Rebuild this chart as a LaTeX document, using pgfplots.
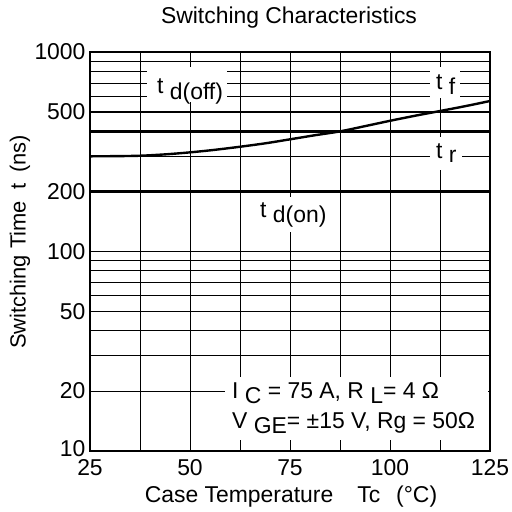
\documentclass[border=0pt]{standalone}
\usepackage{fontspec}
\setmainfont{Liberation Sans}
\usepackage{pgfplots}
\pgfplotsset{compat=1.18}
\begin{document}
\begin{tikzpicture}[font=\fontsize{23}{27}\selectfont]
\useasboundingbox (-90bp,-61bp) rectangle (422bp,451bp);
\begin{axis}[
  at={(0,0)}, anchor=south west,
  scale only axis, width=400bp, height=399bp,
  ymode=log, xmin=25, xmax=125, ymin=10, ymax=1000,
  xtick={25,50,75,100,125},
  minor xtick={37.5,62.5,87.5,112.5},
  ytick={10,20,50,100,200,500,1000},
  yticklabels={\raisebox{5bp}{10},20,50,100,200,500,1000},
  minor ytick={30,40,60,70,80,90,300,400,600,700,800,900},
  grid=both,
  major grid style={black, line width=0.8bp},
  minor grid style={black, line width=0.8bp},
  major tick length=0pt, minor tick length=0pt,
  axis line style={black, line width=1.2bp},
  /pgf/number format/assume math mode=true,
  tick label style={font=\fontsize{23}{27}\selectfont},
  xticklabel style={yshift=-5bp},
  yticklabel style={xshift=-1bp},
  clip=false,
]
\addplot[black, line width=2.4bp] coordinates {(25,500) (125,500)};
\addplot[black, line width=2.4bp] coordinates {(25,400) (125,400)};
\addplot[black, line width=2.4bp] coordinates {(25,200) (125,200)};
\addplot[black, line width=2.4bp, smooth] coordinates {
  (25,300) (31,300.5) (37.5,302) (44,307) (50,314) (56,323) (62.5,335) (69,349) (75,365) (81,382) (87.5,400) (94,426) (100,452) (106,478) (112.5,506) (119,536) (125,568)};
% white label backgrounds
\fill[white] (axis description cs:0.1425,0.8747) rectangle (axis description cs:0.3425,0.962);
\fill[white] (axis description cs:0.85,0.8847) rectangle (axis description cs:0.925,0.962);
\fill[white] (axis description cs:0.85,0.7043) rectangle (axis description cs:0.93,0.787);
\fill[white] (axis description cs:0.3875,0.549) rectangle (axis description cs:0.6,0.6366);
\fill[white] (axis description cs:0.3375,0.0276) rectangle (axis description cs:0.995,0.1855);
\node[anchor=base west, inner sep=0pt] at (axis description cs:0.1675,0.8972) {t \raisebox{-0.3em}{d(off)}};
\node[anchor=base west, inner sep=0pt] at (axis description cs:0.865,0.9048) {t \raisebox{-0.18em}{f}};
\node[anchor=base west, inner sep=0pt] at (axis description cs:0.865,0.7343) {t \raisebox{-0.18em}{r}};
\node[anchor=base west, inner sep=0pt] at (axis description cs:0.425,0.584) {t \raisebox{-0.18em}{d(on)}};
\node[anchor=base west, inner sep=0pt] at (axis description cs:0.355,0.1328) {I \raisebox{-0.25em}{C} = 75 A, R \raisebox{-0.25em}{L}= 4 Ω};
\node[anchor=base west, inner sep=0pt] at (axis description cs:0.355,0.0576) {V \raisebox{-0.25em}{GE}= ±15 V, Rg = 50Ω};
\end{axis}
\node at (199bp,433bp) {Switching Characteristics};
\node at (201bp,-46bp) {Case Temperature\hspace{24bp}Tc\hspace{16bp}(°C)};
\node[rotate=90] at (-70bp,209bp) {\fontsize{22}{26}\selectfont Switching Time\hspace{12bp}t\hspace{10bp}(ns)};
\end{tikzpicture}
\end{document}
